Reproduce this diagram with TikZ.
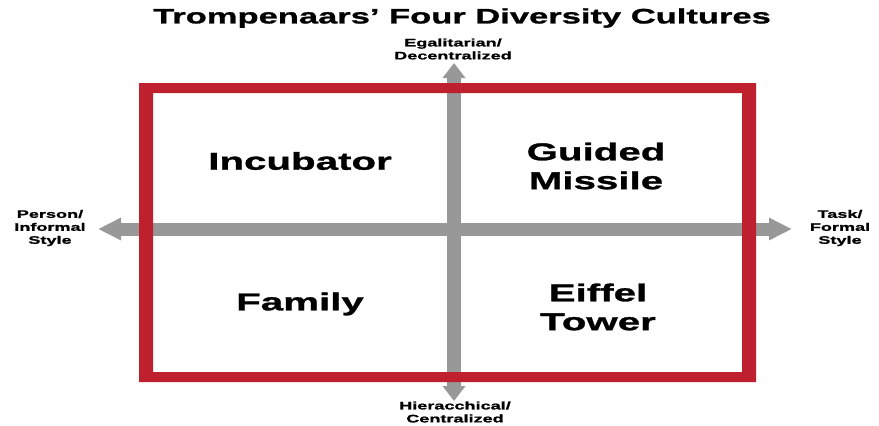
\documentclass[tikz,border=0pt]{standalone}
\usepackage{fontspec}
\setmainfont{Liberation Sans}
\newfontfamily\widesans{Liberation Sans}[FakeStretch=1.65, BoldFeatures={FakeBold=1.2}]
\usetikzlibrary{arrows.meta}
\definecolor{framered}{RGB}{190,32,46}
\definecolor{axisgray}{RGB}{152,152,152}
\tikzset{
  axis/.style={draw=axisgray, line width=13bp},
  vhead/.style={-{Triangle[width=22bp,length=15bp]}},
  hhead/.style={-{Triangle[width=21bp,length=23bp]}},
  title/.style={font=\widesans\bfseries\fontsize{21}{24}\selectfont},
  quad/.style={align=center, font=\widesans\bfseries\fontsize{24.5}{29}\selectfont},
  pole/.style={align=center, font=\widesans\bfseries\fontsize{11}{13}\selectfont}
}
\begin{document}
\begin{tikzpicture}[x=1bp, y=-1bp]
  \useasboundingbox (0,0) rectangle (879,425);
  % axis end points
  \coordinate (center) at (454,229);
  \coordinate (top) at (454,63);
  \coordinate (bottom) at (454,401);
  \coordinate (left) at (98,229);
  \coordinate (right) at (792,229);
  % gray axes with arrow tips at both ends
  \draw[axis, hhead] (center) -- (left);
  \draw[axis, hhead] (center) -- (right);
  \draw[axis, line width=14bp, vhead] (center) -- (top);
  \draw[axis, line width=14bp, vhead] (center) -- (bottom);
  % red frame: thicker sides than top and bottom
  \fill[framered, even odd rule] (139,83) rectangle (756,382)
                                 (153,93) rectangle (742,372);
  % labels
  \node[title] (heading) at (462,18) {Trompenaars’ Four Diversity Cultures};
  \node[pole] (egal) at (453,49) {Egalitarian/\\Decentralized};
  \node[pole] (hier) at (455,412) {Hieracchical/\\Centralized};
  \node[pole] (person) at (50,228) {Person/\\Informal\\Style};
  \node[pole] (task) at (840,228) {Task/\\Formal\\Style};
  \node[quad] (incubator) at (300,161) {Incubator};
  \node[quad] (missile) at (596,166) {Guided\\Missile};
  \node[quad] (family) at (300,304) {Family};
  \node[quad] (eiffel) at (598,307) {Eiffel\\Tower};
\end{tikzpicture}
\end{document}
